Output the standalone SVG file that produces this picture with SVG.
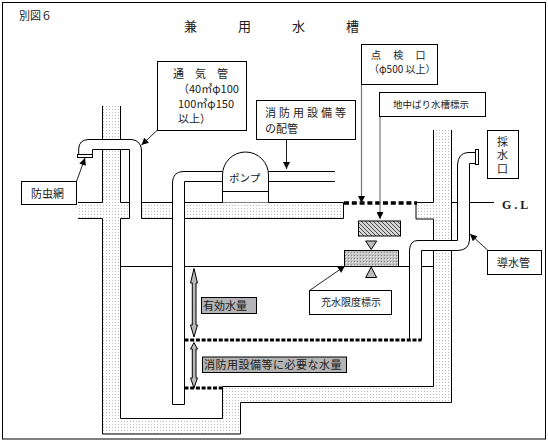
<svg xmlns="http://www.w3.org/2000/svg" width="548" height="444" viewBox="0 0 548 444">
<style>
text{font-family:"Noto Sans CJK JP","Liberation Serif",serif;font-size:11px;fill:#1a1a1a}
.l{fill:none;stroke:#000;stroke-width:1}
.b{fill:#fff;stroke:#000;stroke-width:1}
.p{fill:#fff;stroke:none}
.d{fill:none;stroke:#000;stroke-width:3.5;stroke-dasharray:5 2.8}
.d2{fill:none;stroke:#000;stroke-width:3;stroke-dasharray:4 1.7}
.a{fill:none;stroke:#222;stroke-width:1;marker-end:url(#ah)}
.g{fill:none;stroke:#777;stroke-width:1.2;marker-end:url(#ah)}
.ba{fill:#b8b8b8;stroke:#000;stroke-width:1}
.t{fill:#bbb;stroke:#000;stroke-width:1}
</style>
<defs>
<pattern id="dots" width="3" height="3" patternUnits="userSpaceOnUse"><rect width="3" height="3" fill="#fff"/><rect x="1" y="1" width="1" height="1" fill="#bdbdbd"/></pattern>
<pattern id="hatch" width="4" height="4" patternUnits="userSpaceOnUse"><rect width="4" height="4" fill="#d8d8d8"/><path d="M0 0L4 4M-1 3L1 5M3 -1L5 1" stroke="#444" stroke-width="1"/></pattern>
<pattern id="grid" width="3" height="3" patternUnits="userSpaceOnUse"><rect width="3" height="3" fill="#c4c4c4"/><rect x="1" y="1" width="1" height="1" fill="#eee"/><rect width="1" height="1" fill="#888"/></pattern>
<marker id="ah" viewBox="0 0 10 10" refX="10" refY="5" markerUnits="userSpaceOnUse" markerWidth="8" markerHeight="7" orient="auto"><path d="M0 0L10 5L0 10Z" fill="#000"/></marker>
</defs>
<rect x="2.5" y="2.5" width="543" height="436.5" fill="#fff" stroke="#000"/>
<g id="titles">
<text x="19" y="20">別図６</text>
<text x="184" y="31" style="font-size:13px">兼</text>
<text x="238" y="31" style="font-size:13px">用</text>
<text x="292" y="31" style="font-size:13px">水</text>
<text x="346" y="31" style="font-size:13px">槽</text>
</g>
<g id="tank">
<path fill="url(#dots)" d="M102.5 106H120.5V139.5H102.5ZM102.5 149.5H120.5V202.5H129.5V218.5H120.5V418.5H222.5V386.5H433.5V219H416V202.5H433.5V130H451.5V402.5H240.5V434H102.5V218.5H78V202.5H102.5ZM141.5 202.5H172.5V218.5H141.5ZM184.5 202.5H343.5V218.5H184.5Z"/>
<path class="p" d="M409.5 340V250Q410 240.5 418 240.5H457.5V250.5H421.5V340Z"/>
<path class="l" d="M102.5 106V139.5M120.5 106V139.5M102.5 149.5V202.5H78M120.5 149.5V202.5H129.5M78 218.5H102.5V434H240.5V402.5H451.5V250.5M120.5 218.5H129.5V149.5M120.5 218.5V418.5H222.5V386.5H433.5V250.5M433.5 240.5V219H416V202.5H433.5V130M451.5 130V240.5M141.5 202.5H172.5M184.5 202.5H343.5V218.5H184.5M141.5 218.5H172.5M451.5 202.5H457.5M469.5 202.5H494M120.5 266.5H172.5M184.5 266.5H409.5M421.5 266.5H433.5"/>
</g>
<g id="vent-pipe">
<path class="l" d="M78.7 154.5V149Q79 139.5 89 139.5H132Q141 141 141.5 150V218.5M92.5 154.5V149.5H129.5"/>
<rect class="b" x="77.5" y="154.5" width="15" height="3"/>
</g>
<g id="suction-pipe">
<path class="l" d="M172.5 404.5V182Q173 172 183 171.5H222.5M184.5 404.5V181.5H222.5M172.5 404.5H184.5M268.5 171.5H335M268.5 181.5H335"/>
</g>
<g id="pump">
<path class="b" d="M222.5 202.5V175A23 23 0 0 1 268.5 175V202.5"/>
<path class="l" d="M222.5 191.5H268.5"/>
<text x="229" y="182" style="font-size:10.5px">ポンプ</text>
</g>
<g id="intake-pipe">
<path class="l" d="M409.5 340V250Q410 240.5 418 240.5H457.5V165Q458 153 468 152.5H475.5M421.5 340V250.5H458Q469 250 469.5 240V163.5H475.5"/>
<rect class="b" x="475.5" y="149.5" width="3" height="15"/>
</g>
<g id="markers">
<rect x="358.5" y="221" width="42" height="15" fill="url(#hatch)" stroke="#000"/>
<rect x="344.5" y="250.5" width="54" height="16" fill="url(#grid)" stroke="#000"/>
<path class="t" d="M365.7 241H376.7L371.2 249.5Z"/>
<path class="t" d="M365.7 277.5H376.7L371.2 267Z"/>
</g>
<g id="water-levels">
<path class="d" d="M344 203H417"/>
<path class="d2" d="M184.5 340H421.5"/>
<path class="d2" d="M184.5 388H222"/>
<path class="ba" d="M194 268.5L197.5 283H196V325H197.5L194 337L190.5 325H192.3V283H190.5Z"/>
<path class="ba" d="M194 342.5L197.5 349H196V378H197.5L194 388L190.5 378H192.3V349H190.5Z"/>
</g>
<g id="connectors">
<path class="a" d="M157.5 130L141.5 145"/>
<path class="a" d="M76.5 181.5L85 158"/>
<path class="a" d="M286.5 139.5V169"/>
<path class="g" d="M361.5 84.5V203"/>
<path class="g" d="M380 116.5V219"/>
<path class="a" d="M487.5 250L470 234"/>
<path class="a" d="M309.5 290.5L345 266"/>
</g>
<g id="label-vent"><rect class="b" x="157.5" y="61.5" width="89" height="69"/>
<text x="173" y="78" xml:space="preserve">通　気　管</text><text x="178" y="93">（40㎥φ100</text><text x="178" y="108">100㎥φ150</text><text x="178" y="123">以上）</text></g>
<g id="label-net"><rect class="b" x="21.5" y="181.5" width="55" height="23"/><text x="31" y="198">防虫網</text></g>
<g id="label-fire-pipe"><rect class="b" x="256.5" y="100.5" width="99" height="39"/><text x="265" y="117" style="letter-spacing:3px">消防用設備等</text><text x="265" y="133">の配管</text></g>
<g id="label-hatch"><rect class="b" x="361.5" y="44.5" width="76" height="40"/><text xml:space="preserve" style="font-size:10px"><tspan x="371" y="59">点　 検　 口</tspan><tspan x="369" y="73">（φ500 以上）</tspan></text></g>
<g id="label-beam"><rect class="b" x="379.5" y="92.5" width="106" height="24"/><text x="393" y="108" style="font-size:9.5px">地中ばり水槽標示</text></g>
<g id="label-sample"><rect class="b" x="487.5" y="130.5" width="31" height="48"/><text x="502.5" y="136" style="writing-mode:vertical-rl;letter-spacing:2.5px">採水口</text></g>
<g id="label-gl"><text x="502" y="209" xml:space="preserve" style="font-family:'Liberation Serif',serif;font-size:12px;font-weight:bold">G . L</text></g>
<g id="label-intake"><rect class="b" x="487.5" y="250.5" width="54" height="24"/><text x="497" y="267">導水管</text></g>
<g id="label-limit"><rect class="b" x="309.5" y="290.5" width="82" height="24"/><text x="321" y="306" style="font-size:10px">充水限度標示</text></g>
<g id="label-effective"><rect x="201.5" y="297.5" width="55" height="16" fill="#b4b4b4" stroke="#000"/><text x="203" y="310">有効水量</text></g>
<g id="label-required"><rect x="202.5" y="357" width="144" height="15.5" fill="#b4b4b4" stroke="#000"/><text x="204" y="369" style="letter-spacing:.5px">消防用設備等に必要な水量</text></g>
</svg>
